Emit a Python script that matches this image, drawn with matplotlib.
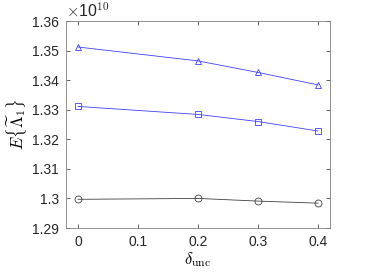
import matplotlib
matplotlib.use('Agg')
import matplotlib.pyplot as plt
from matplotlib.ticker import FuncFormatter

delta = [0, 0.2, 0.3, 0.4]
tri = [1.3512e10, 1.3465e10, 1.3426e10, 1.3384e10]
sq = [1.3311e10, 1.3284e10, 1.3260e10, 1.3228e10]
circ = [1.2997e10, 1.3000e10, 1.2991e10, 1.2984e10]

xticks = [0, 0.1, 0.2, 0.3, 0.4]
yticks = [1.29e10, 1.30e10, 1.31e10, 1.32e10, 1.33e10, 1.34e10, 1.35e10, 1.36e10]

plt.rcParams['font.family'] = ['Liberation Sans', 'DejaVu Sans']
plt.rcParams['mathtext.fontset'] = 'cm'

fig = plt.figure(figsize=(3.65, 2.76), dpi=100)
ax = fig.add_axes([66/365, 1 - 228/276, 264/365, 207/276])

ax.plot(delta, tri, color='#4040ff', lw=0.6, marker='^', ms=5, mfc='none', mec='#4040ff', mew=0.6)
ax.plot(delta, sq, color='#4040ff', lw=0.6, marker='s', ms=4.5, mfc='none', mec='#4040ff', mew=0.6)
ax.plot(delta, circ, color='#404040', lw=0.6, marker='o', ms=5, mfc='none', mec='#404040', mew=0.6)

ax.set_xlim(-0.02, 0.42)
ax.set_ylim(1.29e10, 1.36e10)
ax.set_xticks(xticks)
ax.set_yticks(yticks)
ax.xaxis.set_major_formatter(FuncFormatter(lambda v, p: '%g' % v))
ax.yaxis.set_major_formatter(FuncFormatter(lambda v, p: '%g' % round(v / 1e10, 4)))
ax.tick_params(direction='in', top=True, right=True, length=3, width=0.5,
               colors='#262626', labelsize=10, pad=5)
for s in ax.spines.values():
    s.set_linewidth(0.6)
    s.set_color('#808080')

ax.text(0.0, 1.005, r'$\times$10$^{10}$', transform=ax.transAxes, fontsize=11.5,
        color='#262626', ha='left', va='bottom')
ax.set_xlabel(r'$\delta_{\rm unc}$', fontsize=12, labelpad=1)
ax.set_ylabel(r'$E\{\widetilde{\Lambda}_1\}$', fontsize=12, labelpad=2)

fig.savefig('out.png', dpi=100)
